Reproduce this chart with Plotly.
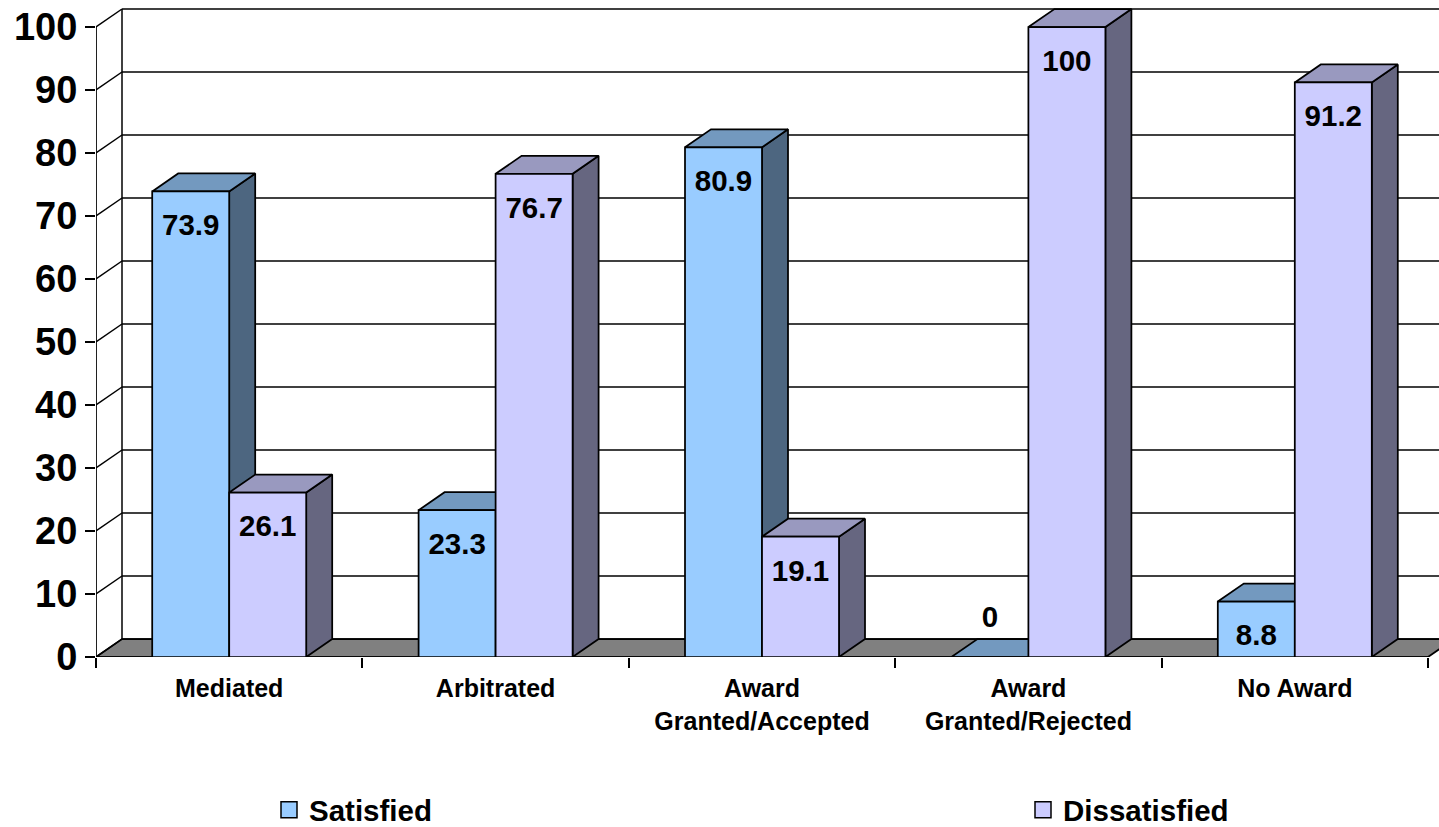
import plotly.graph_objects as go

# ---------------- data ----------------
categories = ["Mediated", "Arbitrated", "Award<br>Granted/Accepted",
              "Award<br>Granted/Rejected", "No Award"]
satisfied = [73.9, 23.3, 80.9, 0, 8.8]
dissatisfied = [26.1, 76.7, 19.1, 100, 91.2]
series_names = ["Satisfied", "Dissatisfied"]
y_ticks = [0, 10, 20, 30, 40, 50, 60, 70, 80, 90, 100]

# ---------------- styling / geometry ----------------
W, H = 1439, 827
ML, MB = 96, 170
PX_PER_CAT = 266.4
PX_PER_UNIT = 6.3
plot_w = W - ML
plot_h = H - MB
x_max = plot_w / PX_PER_CAT
y_max = plot_h / PX_PER_UNIT
DX = 26 / PX_PER_CAT
DY = 18 / PX_PER_UNIT
BAR_W = 77 / PX_PER_CAT
GAP = (1 - 2 * BAR_W) / 2
FONT = "Liberation Sans, Arial, sans-serif"

colors = {
    "Satisfied": {"front": "#99CCFF", "top": "#7399BF", "side": "#4D6680"},
    "Dissatisfied": {"front": "#CCCCFF", "top": "#9999BF", "side": "#666680"},
}
OUTLINE = dict(color="black", width=1.75)

fig = go.Figure()


def faces(x0, h):
    x1 = x0 + BAR_W
    front = [(x0, 0), (x1, 0), (x1, h), (x0, h), (x0, 0)]
    top = [(x0, h), (x1, h), (x1 + DX, h + DY), (x0 + DX, h + DY), (x0, h)]
    side = [(x1, 0), (x1 + DX, DY), (x1 + DX, h + DY), (x1, h), (x1, 0)]
    return front, top, side


series_values = [satisfied, dissatisfied]
for s_idx, (name, vals) in enumerate(zip(series_names, series_values)):
    fx, fy, tx, ty, sx, sy = [], [], [], [], [], []
    for i, v in enumerate(vals):
        x0 = i + GAP + s_idx * BAR_W
        front, top, side = faces(x0, v)
        for pts, xs, ys in ((front, fx, fy), (top, tx, ty), (side, sx, sy)):
            xs.extend([p[0] for p in pts] + [None])
            ys.extend([p[1] for p in pts] + [None])
    for xs, ys, key in ((sx, sy, "side"), (tx, ty, "top"), (fx, fy, "front")):
        fig.add_trace(go.Scatter(
            x=xs, y=ys, mode="lines", fill="toself",
            fillcolor=colors[name][key], line=OUTLINE,
            hoverinfo="skip", showlegend=False, name=name))

# data labels
for s_idx, (name, vals) in enumerate(zip(series_names, series_values)):
    lx = [i + GAP + s_idx * BAR_W + BAR_W / 2 for i in range(len(vals))]
    ly = [v - 5.8 if v > 0 else v + 5.9 for v in vals]
    fig.add_trace(go.Scatter(
        x=lx, y=ly, mode="text", text=[f"{v:g}" for v in vals],
        textfont=dict(family=FONT, size=29.5, color="black", weight="bold"),
        hoverinfo="skip", showlegend=False, cliponaxis=False))

# legend entries (one legend box per series, placed like the original)
legend_ids = ["legend", "legend2"]
for name, lid in zip(series_names, legend_ids):
    fig.add_trace(go.Scatter(
        x=[None], y=[None], mode="markers", name=name, legend=lid,
        marker=dict(symbol="square", size=16, color=colors[name]["front"],
                    line=dict(color="black", width=1.5))))

# ---------------- walls, floor, gridlines ----------------
n = len(categories)
shapes = []
floor_path = (f"M 0,0 L {n},0 L {n + DX},{DY} L {DX},{DY} Z")
shapes.append(dict(type="path", path=floor_path, xref="x", yref="y",
                   fillcolor="#808080", line=dict(color="black", width=1.75),
                   layer="below"))
for v in y_ticks:
    shapes.append(dict(type="line", xref="x", yref="y", x0=DX, y0=v + DY,
                       x1=x_max + 1, y1=v + DY,
                       line=dict(color="black", width=1.5), layer="below"))
    shapes.append(dict(type="line", xref="x", yref="y", x0=0, y0=v,
                       x1=DX, y1=v + DY,
                       line=dict(color="black", width=1.5), layer="below"))
shapes.append(dict(type="line", xref="x", yref="y", x0=DX, y0=DY,
                   x1=DX, y1=y_ticks[-1] + DY,
                   line=dict(color="black", width=1.5), layer="below"))
shapes.append(dict(type="line", xref="x", yref="y", x0=0, y0=0,
                   x1=0, y1=y_ticks[-1],
                   line=dict(color="black", width=1.75), layer="below"))
shapes.append(dict(type="line", xref="x", yref="y", x0=0, y0=0,
                   x1=n, y1=0,
                   line=dict(color="black", width=1.75), layer="below"))

legend_font = dict(family=FONT, size=29.5, color="black", weight="bold")
legend_y = -153 / plot_h
fig.update_layout(
    width=W, height=H,
    margin=dict(l=ML, r=0, t=0, b=MB, pad=0, autoexpand=False),
    paper_bgcolor="white", plot_bgcolor="white",
    shapes=shapes,
    showlegend=True,
    legend=dict(orientation="h", x=(269 - ML) / plot_w, xanchor="left",
                y=legend_y, yanchor="middle", font=legend_font,
                bgcolor="rgba(0,0,0,0)", itemclick=False, itemdoubleclick=False),
    legend2=dict(orientation="h", x=(1023 - ML) / plot_w, xanchor="left",
                 y=legend_y, yanchor="middle", font=legend_font,
                 bgcolor="rgba(0,0,0,0)", itemclick=False, itemdoubleclick=False),
    xaxis=dict(range=[0, x_max], showgrid=False, zeroline=False,
               showline=False, automargin=False,
               tickmode="array", tickvals=[i + 0.5 for i in range(n)],
               ticktext=categories, ticks="",
               ticklabelstandoff=14,
               tickfont=dict(family=FONT, size=25, color="black", weight="bold"),
               minor=dict(tickmode="array", tickvals=list(range(n + 1)),
                          ticks="outside", ticklen=10, tickwidth=1.5,
                          tickcolor="black", showgrid=False),
               fixedrange=True),
    yaxis=dict(range=[0, y_max], showgrid=False, zeroline=False,
               showline=False, automargin=False,
               tickmode="array", tickvals=y_ticks,
               ticks="outside", ticklen=10, tickwidth=1.5, tickcolor="black",
               tickfont=dict(family=FONT, size=38, color="black", weight="bold"),
               fixedrange=True),
    hovermode=False,
)

fig.write_html("out.html")
